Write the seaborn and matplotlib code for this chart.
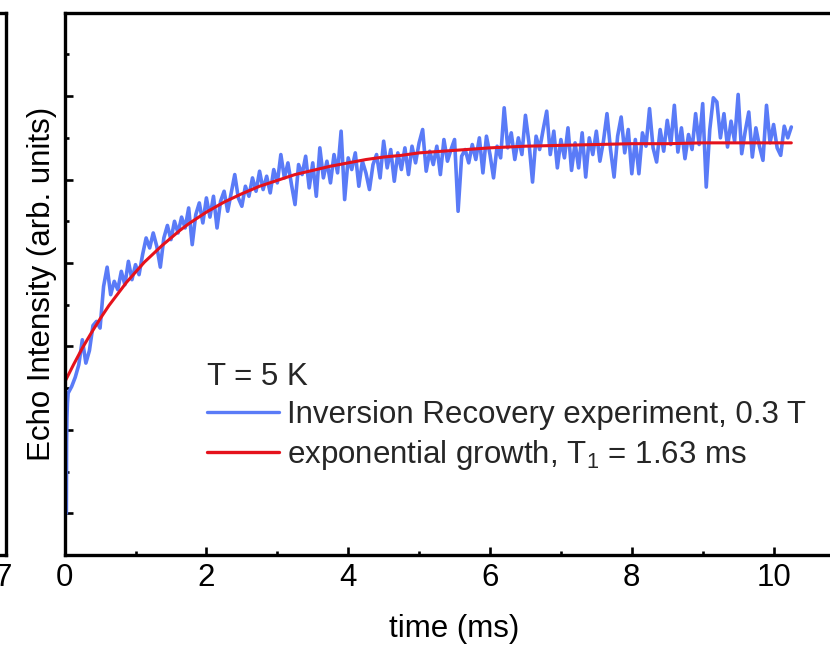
import numpy as np
import pandas as pd
import matplotlib
matplotlib.use("Agg")
import matplotlib.pyplot as plt
import seaborn as sns
from matplotlib.ticker import MultipleLocator

# ---------------- data ----------------
# measured inversion-recovery echo intensity (arb. units)
time_early = [0.025, 0.028, 0.033, 0.04]
echo_early = [0.0, 0.85, 1.15, 1.32]
sample_step = 0.05  # ms, sampling of the main trace below (t = 0.05 ... 10.25)
echo_main = [
    1.44, 1.52, 1.63, 1.78, 2.08, 1.80, 1.95, 2.25, 2.30, 2.22, 2.72, 2.95, 2.62, 2.78, 2.68, 2.90, 2.74, 3.02, 2.80, 2.98,
    2.86, 3.10, 3.30, 3.18, 3.36, 3.20, 2.95, 3.30, 3.45, 3.28, 3.50, 3.36, 3.55, 3.42, 3.66, 3.22, 3.58, 3.72, 3.48, 3.78,
    3.55, 3.80, 3.42, 3.74, 3.86, 3.62, 3.84, 4.06, 3.78, 3.68, 3.92, 3.80, 4.02, 3.86, 4.10, 3.88, 4.04, 3.84, 4.12, 3.96,
    4.30, 4.02, 4.20, 3.94, 3.70, 4.18, 4.06, 4.28, 3.90, 4.20, 3.80, 4.38, 4.02, 4.22, 3.96, 4.30, 4.08, 4.58, 3.76, 4.26,
    4.12, 4.32, 3.92, 4.22, 4.08, 3.88, 4.18, 4.30, 4.02, 4.46, 4.14, 4.36, 3.98, 4.32, 4.12, 4.38, 4.06, 4.40, 4.20, 4.44,
    4.60, 4.10, 4.34, 4.18, 4.40, 4.06, 4.48, 4.22, 4.36, 4.48, 3.62, 4.28, 4.36, 4.20, 4.42, 4.24, 4.50, 4.08, 4.52, 4.30,
    4.02, 4.40, 4.26, 4.86, 4.38, 4.56, 4.24, 4.50, 4.30, 4.77, 4.44, 3.97, 4.52, 4.36, 4.60, 4.82, 4.30, 4.58, 4.14, 4.48,
    4.26, 4.62, 4.11, 4.44, 4.14, 4.56, 4.03, 4.50, 4.30, 4.58, 4.22, 4.46, 4.79, 4.36, 4.03, 4.52, 4.75, 4.32, 4.60, 4.07,
    4.48, 4.07, 4.56, 4.40, 4.85, 4.38, 4.21, 4.60, 4.34, 4.71, 4.42, 4.89, 4.33, 4.62, 4.25, 4.54, 4.36, 4.79, 4.42, 4.91,
    3.91, 4.60, 4.98, 4.93, 4.50, 4.79, 4.39, 4.70, 4.46, 5.02, 4.31, 4.58, 4.81, 4.27, 4.62, 4.40, 4.23, 4.89, 4.44, 4.66,
    4.38, 4.29, 4.64, 4.50, 4.63,
]

# exponential-growth fit curve
fit_time = [0.0, 0.125, 0.25, 0.375, 0.5, 0.625, 0.75, 0.875, 1.0, 1.125, 1.25, 1.375, 1.5, 1.625,
            1.75, 1.875, 2.0, 2.25, 2.5, 2.75, 3.0, 3.25, 3.5, 3.75, 4.0, 4.25, 4.5, 4.75, 5.0,
            5.5, 6.0, 6.5, 7.0, 7.5, 8.0, 8.5, 9.0, 9.5, 10.0, 10.25]
fit_vals = [1.57, 1.78, 1.98, 2.16, 2.33, 2.49, 2.63, 2.77, 2.89, 3.01, 3.11, 3.21, 3.30, 3.39,
            3.47, 3.54, 3.61, 3.73, 3.83, 3.92, 3.99, 4.06, 4.11, 4.16, 4.20, 4.24, 4.27, 4.29, 4.32,
            4.35, 4.38, 4.40, 4.41, 4.42, 4.43, 4.43, 4.44, 4.44, 4.44, 4.44]

x_ticks = [0, 2, 4, 6, 8, 10]
legend_title = "T = 5 K"
label_data = "Inversion Recovery experiment, 0.3 T"
label_fit = "exponential growth, T$_1$ = 1.63 ms"

# ---------------- build tables ----------------
time_main = np.round(np.arange(1, len(echo_main) + 1) * sample_step, 3)
df_data = pd.DataFrame({"time": list(time_early) + list(time_main),
                        "echo": list(echo_early) + list(echo_main)})
df_fit = pd.DataFrame({"time": fit_time, "echo": fit_vals})

# ---------------- style ----------------
sns.set_theme(style="white")
plt.rcParams["font.family"] = ["Liberation Sans", "DejaVu Sans"]
plt.rcParams["mathtext.default"] = "regular"
FS = 22.5
LW_SPINE = 2.4

fig = plt.figure(figsize=(8.3, 6.45), dpi=100)
W, H = 830.0, 645.0
ax_left_px, ax_top_px, ax_bot_px = 64.6, 12.7, 555.0
px_per_ms = 70.9
ax = fig.add_axes([ax_left_px / W, (H - ax_bot_px) / H,
                   11.0 * px_per_ms / W, (ax_bot_px - ax_top_px) / H])

blue = "#5a7bf7"
red = "#e5121c"
sns.lineplot(data=df_data, x="time", y="echo", ax=ax, color=blue, lw=2.6,
             label=label_data, sort=False, estimator=None)
sns.lineplot(data=df_fit, x="time", y="echo", ax=ax, color=red, lw=2.2,
             label=label_fit, sort=False, estimator=None)

ax.set_xlim(0, 11)
ax.set_ylim(-0.5, 6.0)
ax.set_xticks(x_ticks)
ax.xaxis.set_minor_locator(MultipleLocator(1))
ax.yaxis.set_major_locator(MultipleLocator(1))
ax.yaxis.set_minor_locator(MultipleLocator(0.5))
ax.yaxis.set_major_formatter(plt.NullFormatter())
ax.tick_params(which="both", direction="in", top=False, right=False, bottom=True, left=True,
               width=1.9, color="black", labelsize=FS, labelcolor="black", pad=6)
ax.tick_params(which="major", length=5.5)
ax.tick_params(which="minor", length=2.6)
for s in ax.spines.values():
    s.set_linewidth(LW_SPINE)
    s.set_color("black")
ax.set_xlabel("time (ms)", fontsize=FS, color="black", labelpad=15)
ax.set_ylabel("Echo Intensity (arb. units)", fontsize=FS, color="black", labelpad=-0.5)

leg = ax.legend(loc="upper left", bbox_to_anchor=((204 - ax_left_px) / (11 * px_per_ms),
                                                   (ax_bot_px - 359) / (ax_bot_px - ax_top_px)),
                frameon=False, fontsize=FS, title=legend_title, title_fontsize=FS,
                alignment="left", borderpad=0.1, borderaxespad=0, handlelength=2.3,
                handletextpad=0.25, labelspacing=0.25)
for h in leg.get_lines():
    h.set_linewidth(2.4)

# partial neighbouring panel cut off at the left edge of the reference
ax0 = fig.add_axes([(6 - 255) / W, (H - ax_bot_px) / H, 255 / W, (ax_bot_px - ax_top_px) / H])
ax0.set_xlim(0, 7.08)
ax0.set_ylim(0, 1)
ax0.set_xticks([7])
ax0.set_yticks([])
ax0.tick_params(direction="in", length=0, labelsize=FS, labelcolor="black", pad=6)
for s in ax0.spines.values():
    s.set_linewidth(LW_SPINE)
    s.set_color("black")

fig.savefig("out.png", dpi=100)
